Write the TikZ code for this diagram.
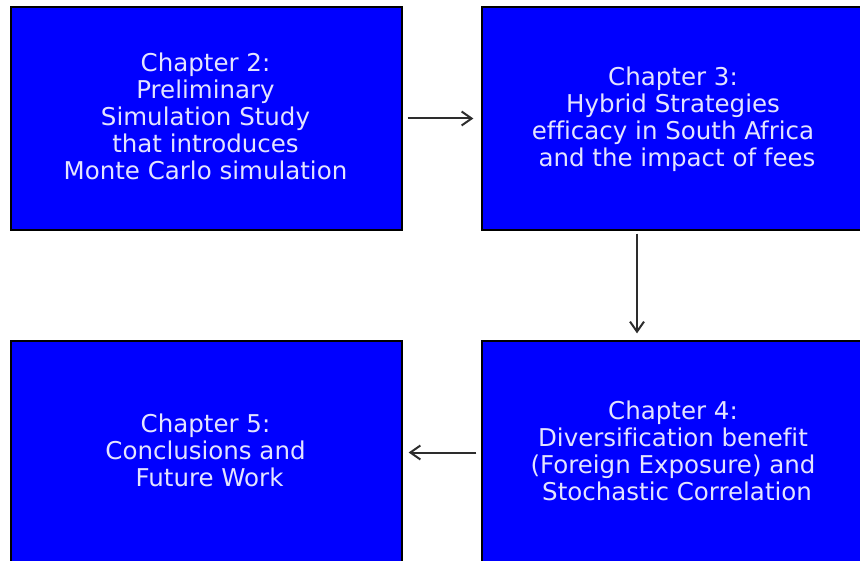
\documentclass[tikz,border=0pt]{standalone}
\usepackage{fontspec}
\setmainfont[Ligatures=NoCommon]{DejaVu Sans}
\usepackage{tikz}
\usetikzlibrary{arrows.meta,positioning}
\usepackage{xcolor}
\definecolor{chblue}{RGB}{0,0,255}
\definecolor{chtext}{RGB}{228,228,255}
\definecolor{chgray}{RGB}{45,45,45}
\tikzstyle{arrow} = [line width=2pt,-{Straight Barb[length=10pt,width=14pt]},color=chgray]

\begin{document}
\begin{tikzpicture}[
    x=1pt, y=-1pt,
    every node/.style={font=\fontsize{24.5}{27}\selectfont},
    chapter/.style={rectangle, draw=black, line width=1.3pt, fill=chblue, minimum width=391pt, minimum height=223pt, inner sep=0pt},
    chtitle/.style={text=chtext, inner sep=0pt, align=center}
]

% Page
\clip (0,0) rectangle (860,561);

% Top row
\node[chapter] (ch2) at (206.5,118.5) {};
\node[chapter] (ch3) at (677.5,118.5) {};
\node[chtitle] (ch2text) at (205.5,116.5) {Chapter 2:\\Preliminary\\Simulation Study\\that introduces\\Monte Carlo simulation};
\node[chtitle] (ch3text) at (673,119.5) {Chapter 3:\\Hybrid Strategies\\efficacy in South Africa\\\hspace*{.33em}and the impact of fees};

% Bottom row
\node[chapter] (ch5) at (206.5,452.5) {};
\node[chapter] (ch4) at (677.5,452.5) {};
\node[chtitle] (ch5text) at (205.5,450.5) {Chapter 5:\\Conclusions and\\\hspace*{.33em}Future Work};
\node[chtitle] (ch4text) at (673,450.5) {Chapter 4:\\Diversification benefit\\(Foreign Exposure) and\\\hspace*{.33em}Stochastic Correlation};

% Arrows
\draw[arrow, shorten <=5pt, shorten >=8pt] (ch2) -- (ch3);
\draw[arrow, shorten <=3pt, shorten >=7pt] ([xshift=-40.5pt]ch3.south) -- ([xshift=-40.5pt]ch4.north);
\draw[arrow, shorten <=5pt, shorten >=6pt] (ch4) -- (ch5);

\end{tikzpicture}
\end{document}
